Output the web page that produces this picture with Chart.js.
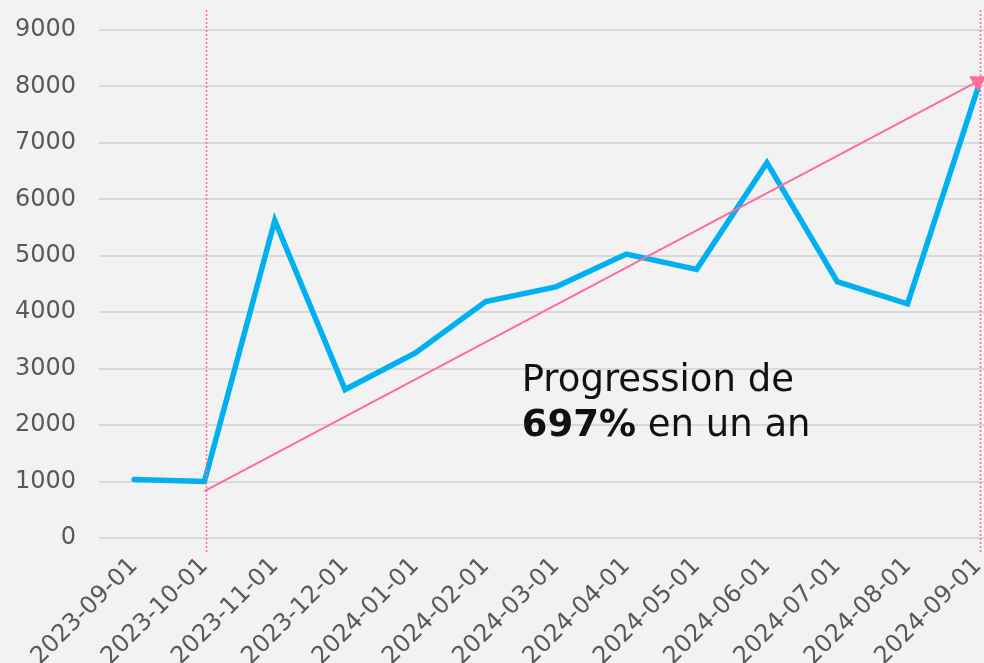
<!DOCTYPE html>
<html>
<head>
<meta charset="utf-8">
<script src="https://cdn.jsdelivr.net/npm/chart.js@4"></script>
<style>
html, body { margin: 0; padding: 0; background: #f2f2f2; overflow: hidden; }
#wrap { width: 1030px; height: 663px; position: relative; }
</style>
</head>
<body>
<div id="wrap"><canvas id="growthChart"></canvas></div>
<script>
const months = [
  '2023-09-01', '2023-10-01', '2023-11-01', '2023-12-01', '2024-01-01',
  '2024-02-01', '2024-03-01', '2024-04-01', '2024-05-01', '2024-06-01',
  '2024-07-01', '2024-08-01', '2024-09-01'
];
const users = [1035, 1000, 5625, 2630, 3280, 4190, 4450, 5030, 4760, 6650, 4540, 4150, 7970];
const trend = [null, 830, null, null, null, null, null, null, null, null, null, null, 8090];
const yTicks = [0, 1000, 2000, 3000, 4000, 5000, 6000, 7000, 8000, 9000];
const markedMonths = ['2023-10-01', '2024-09-01'];
const noteLine1 = 'Progression de';
const noteBold = '697%';
const noteRest = ' en un an';

const pink = '#ff6b9d';
const blue = '#00b0f0';
const FONT = "'DejaVu Sans', sans-serif";

/* dotted month markers + text note */
const extras = {
  id: 'extras',
  afterDatasetsDraw(chart) {
    const c = chart.ctx;
    const x = chart.scales.x;
    const y = chart.scales.y;
    const top = y.getPixelForValue(yTicks[yTicks.length - 1]) - 20;
    const bottom = y.getPixelForValue(0) + 14;
    c.save();
    c.strokeStyle = pink;
    c.lineWidth = 1.5;
    c.setLineDash([2, 2]);
    markedMonths.forEach(function (m) {
      const px = Math.round(x.getPixelForValue(months.indexOf(m))) + 2.5;
      c.beginPath();
      c.moveTo(px, top);
      c.lineTo(px, bottom);
      c.stroke();
    });
    c.setLineDash([]);

    const tx = x.getPixelForValue(5) + 36;
    const ty = y.getPixelForValue(2600);
    c.fillStyle = '#111111';
    c.textAlign = 'left';
    c.textBaseline = 'alphabetic';
    c.font = '37px ' + FONT;
    c.fillText(noteLine1, tx, ty);
    c.font = 'bold 37px ' + FONT;
    c.fillText(noteBold, tx, ty + 45);
    const w = c.measureText(noteBold).width;
    c.font = '37px ' + FONT;
    c.fillText(noteRest, tx + w, ty + 45);
    c.restore();
  }
};

const ctx = document.getElementById('growthChart');

new Chart(ctx, {
  type: 'line',
  data: {
    labels: months,
    datasets: [{
      label: 'Utilisateurs',
      data: users,
      borderColor: blue,
      borderWidth: 5.5,
      borderCapStyle: 'round',
      borderJoinStyle: 'miter',
      pointRadius: 0,
      tension: 0,
      order: 2
    }, {
      label: 'Tendance',
      data: trend,
      spanGaps: true,
      borderColor: pink,
      backgroundColor: pink,
      borderWidth: 2,
      pointStyle: 'triangle',
      pointRotation: 180,
      pointRadius: trend.map(function (v, i) { return i === trend.length - 1 ? 10 : 0; }),
      pointBorderWidth: 0,
      tension: 0,
      order: 1
    }]
  },
  options: {
    responsive: true,
    maintainAspectRatio: false,
    animation: false,
    layout: {
      padding: { top: 30, right: 17, left: 0, bottom: 0 }
    },
    plugins: {
      legend: { display: false },
      tooltip: { enabled: false }
    },
    scales: {
      x: {
        offset: true,
        grid: { display: false, drawTicks: false },
        border: { display: false },
        ticks: {
          color: '#595959',
          font: { family: FONT, size: 24 },
          minRotation: 45,
          maxRotation: 45,
          autoSkip: false,
          padding: 14
        },
        afterFit: function (scale) { scale.height = 125; }
      },
      y: {
        min: 0,
        max: 9000,
        afterBuildTicks: function (scale) {
          scale.ticks = yTicks.map(function (v) { return { value: v }; });
        },
        grid: { color: '#d9d9d9', lineWidth: 2, drawTicks: false },
        border: { display: false },
        ticks: {
          color: '#595959',
          font: { family: FONT, size: 24 },
          padding: 23,
          callback: function (v) { return String(v); }
        },
        afterFit: function (scale) {
          scale.width = 99;
          scale.paddingTop = 0;
        }
      }
    }
  },
  plugins: [extras]
});
</script>
</body>
</html>
